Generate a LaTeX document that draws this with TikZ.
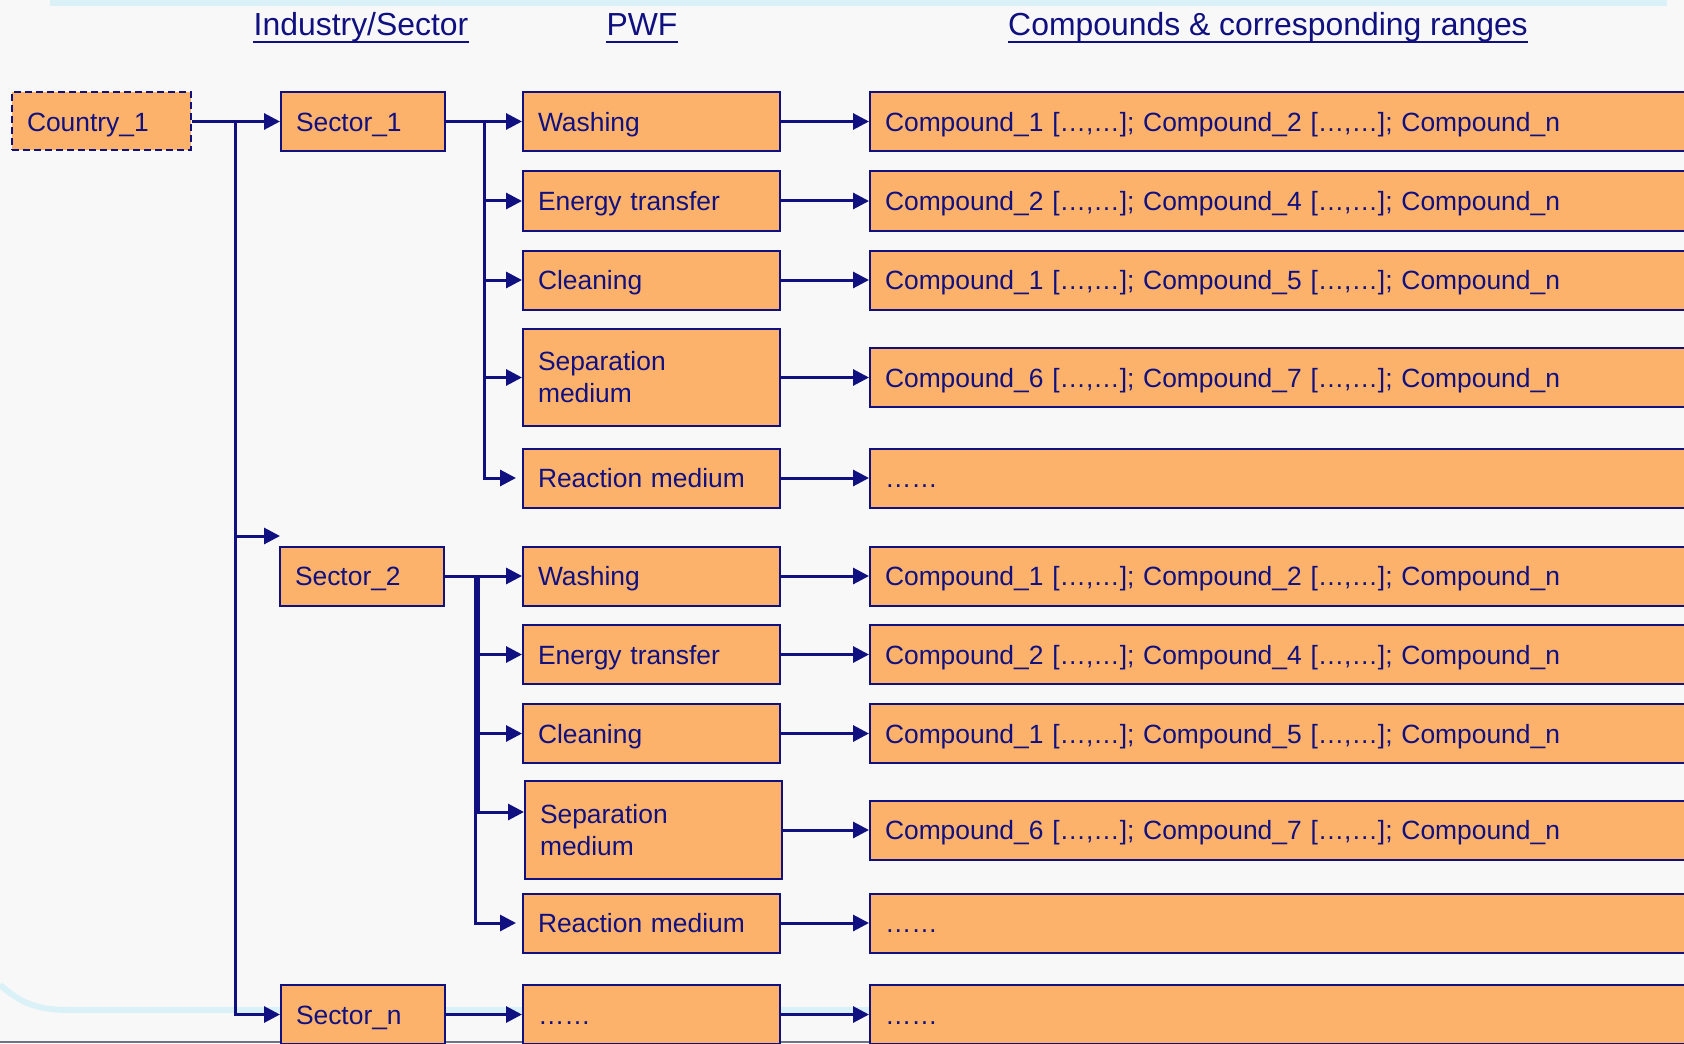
\documentclass[tikz,border=0pt]{standalone}
\usepackage{fontspec}
\setmainfont{Liberation Sans}
\usetikzlibrary{arrows.meta}
\definecolor{navy}{RGB}{16,16,128}
\definecolor{boxfill}{RGB}{253,178,108}
\definecolor{bgtone}{RGB}{248,248,248}
\definecolor{swoosh}{RGB}{218,242,247}
\definecolor{rulegray}{RGB}{110,116,132}

\begin{document}
\begin{tikzpicture}[x=0.5pt,y=-0.5pt,
  box/.style={draw=navy, fill=boxfill, line width=1pt, rectangle, anchor=west,
    minimum height=29.5pt, inner xsep=7.5pt, inner ysep=0pt, align=left, text=navy,
    text height=9.6pt, text depth=0pt,
    font=\fontsize{13.2}{16}\selectfont},
  twoline/.style={text height={}, text depth={}, inner ysep=0pt},
  sectorbox/.style={box, text width=67pt},
  pwfbox/.style={box, text width=113.5pt},
  cmpbox/.style={box, text width=400.5pt},
  hdr/.style={inner sep=0pt, anchor=base, text=navy, font=\fontsize{15.95}{19}\selectfont},
  uline/.style={draw=navy, line width=1pt},
  link/.style={draw=navy, line width=1.5pt},
  arr/.style={link, -{Triangle[length=8pt,width=8pt]}},
]
\useasboundingbox (0,0) rectangle (1684,1043);
\clip (0,0) rectangle (1684,1043);

% slide background
\fill[bgtone] (0,0) rectangle (1684,1043);
\fill[swoosh] (50,0) rectangle (1667,6);
\draw[swoosh, line width=3pt] (0,985) .. controls (20,1002) and (35,1010) .. (70,1010) -- (1684,1010);
\draw[rulegray, line width=1pt] (0,1042) -- (1684,1042);

% column headers
\node[hdr] (h1) at (361,36) {Industry/Sector};
\node[hdr] (h2) at (642,36) {PWF};
\node[hdr] (h3) at (1268,36) {Compounds \& corresponding ranges};
\foreach \h in {h1,h2,h3}
  \draw[uline] ([yshift=-3pt]\h.base west) -- ([yshift=-3pt]\h.base east);

% country and sectors
\node[box, text width=74.5pt, minimum height=29pt, dash pattern=on 3.5pt off 2pt] (country) at (11,121.5) {Country\_1};
\node[sectorbox] (s1) at (280,121.5) {Sector\_1};
\node[sectorbox] (s2) at (279,576) {Sector\_2};
\node[sectorbox] (sn) at (280,1014.5) {Sector\_n};

% process water functions
\node[pwfbox] (w1) at (522,121.5) {Washing};
\node[pwfbox] (e1) at (522,201) {Energy transfer};
\node[pwfbox] (cl1) at (522,280) {Cleaning};
\node[pwfbox, twoline, minimum height=48.5pt] (sp1) at (522,377.5) {Separation\\medium};
\node[pwfbox] (r1) at (522,478) {Reaction medium};
\node[pwfbox] (w2) at (522,576) {Washing};
\node[pwfbox] (e2) at (522,654.5) {Energy transfer};
\node[pwfbox] (cl2) at (522,733.5) {Cleaning};
\node[pwfbox, twoline, minimum height=49pt] (sp2) at (524,830) {Separation\\medium};
\node[pwfbox] (r2) at (522,923) {Reaction medium};
\node[pwfbox] (pn) at (522,1014.5) {……};

% compounds
\node[cmpbox] (k1) at (869,121.5) {Compound\_1 […,…]; Compound\_2 […,…]; Compound\_n};
\node[cmpbox] (k2) at (869,201) {Compound\_2 […,…]; Compound\_4 […,…]; Compound\_n};
\node[cmpbox] (k3) at (869,280) {Compound\_1 […,…]; Compound\_5 […,…]; Compound\_n};
\node[cmpbox] (k4) at (869,377.5) {Compound\_6 […,…]; Compound\_7 […,…]; Compound\_n};
\node[cmpbox] (k5) at (869,478) {……};
\node[cmpbox] (k6) at (869,576) {Compound\_1 […,…]; Compound\_2 […,…]; Compound\_n};
\node[cmpbox] (k7) at (869,654.5) {Compound\_2 […,…]; Compound\_4 […,…]; Compound\_n};
\node[cmpbox] (k8) at (869,733.5) {Compound\_1 […,…]; Compound\_5 […,…]; Compound\_n};
\node[cmpbox] (k9) at (869,830) {Compound\_6 […,…]; Compound\_7 […,…]; Compound\_n};
\node[cmpbox] (k10) at (869,923) {……};
\node[cmpbox] (kn) at (869,1014.5) {……};

% country to sectors
\coordinate (ta) at (235,121.5);
\coordinate (s2mark) at (280,536);
\draw[arr] (country.east) -- (s1.west);
\draw[arr] (ta) |- (sn.west);
\draw[arr] (ta |- s2mark) -- (s2mark);

% sector 1 to its functions
\coordinate (tb) at (484,121.5);
\draw[arr] (s1.east) -- (w1.west);
\foreach \t in {e1,cl1,sp1} \draw[arr] (tb) |- (\t.west);
\draw[arr, shorten >=3pt] (tb) |- (r1.west);

% sector 2 to its functions
\coordinate (tc) at (478,576);
\coordinate (td) at (475,576);
\draw[arr] (s2.east) -- (w2.west);
\foreach \t in {e2,cl2} \draw[arr] (tc) |- (\t.west);
\draw[arr] (tc) |- ([yshift=9pt]sp2.west);
\draw[arr, shorten >=3pt] (td) |- (r2.west);

% sector n
\draw[arr] (sn.east) -- (pn.west);

% functions to compounds
\foreach \a/\b in {w1/k1,e1/k2,cl1/k3,sp1/k4,r1/k5,w2/k6,e2/k7,cl2/k8,sp2/k9,r2/k10,pn/kn}
  \draw[arr] (\a.east) -- (\b.west);
\end{tikzpicture}
\end{document}
